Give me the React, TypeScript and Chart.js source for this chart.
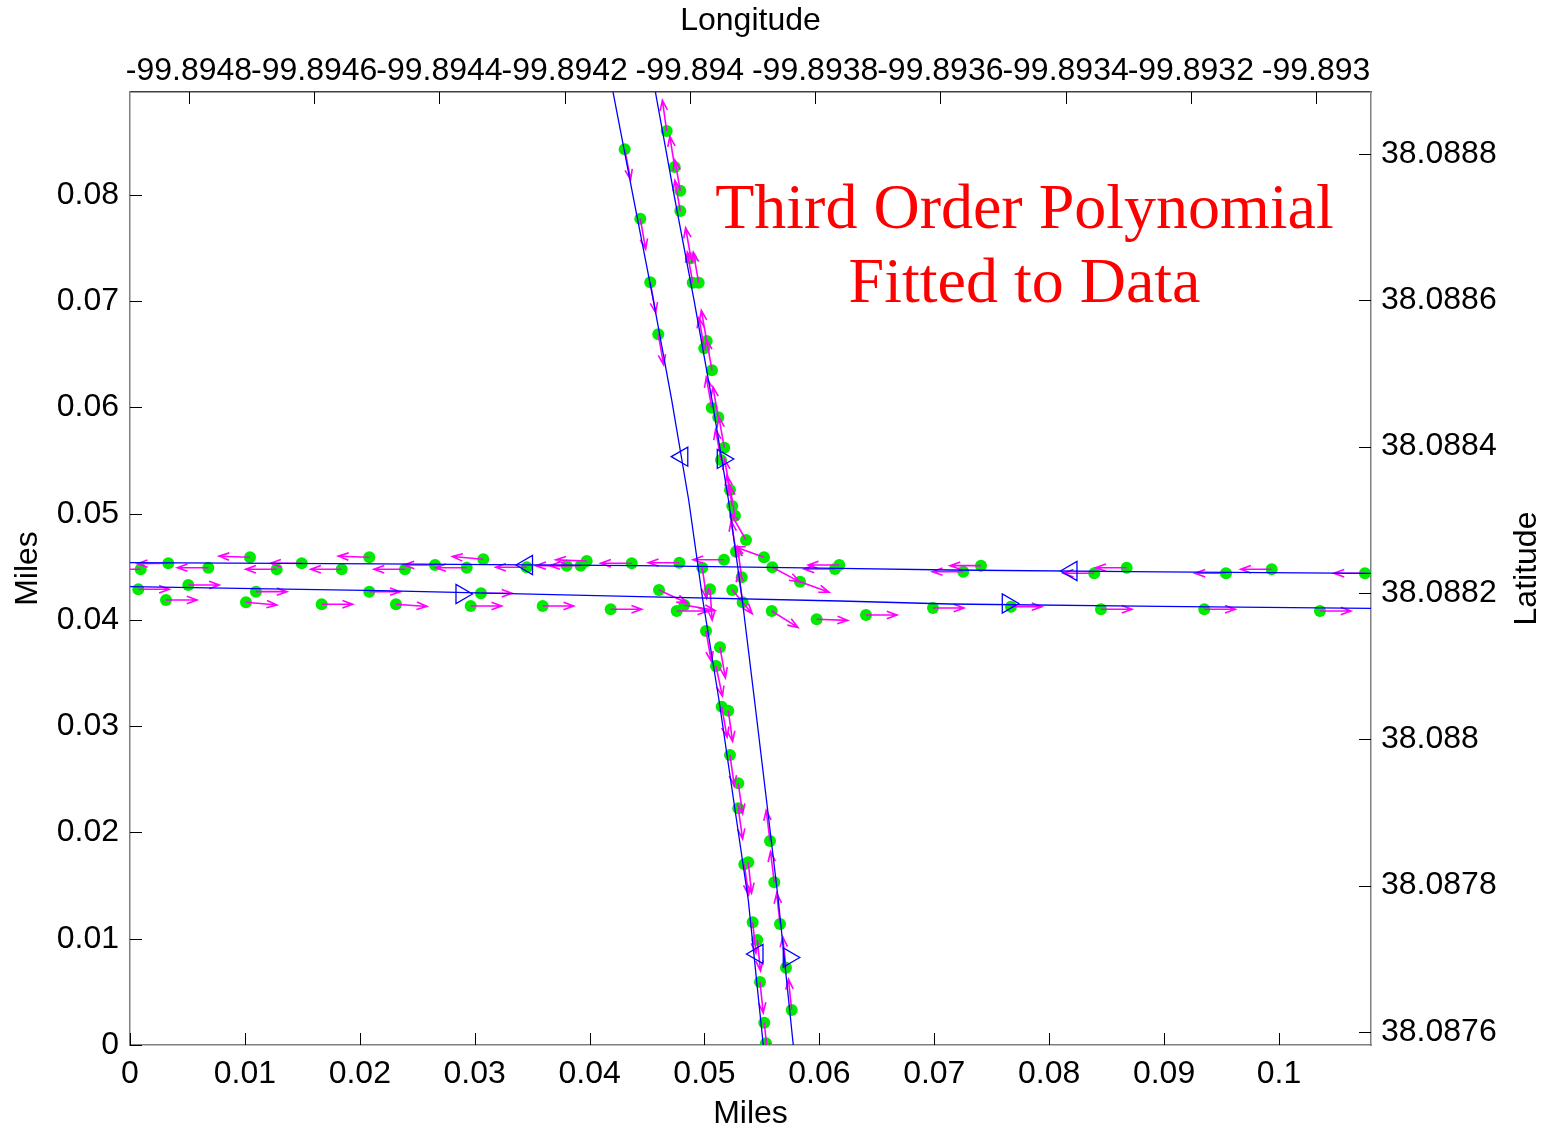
import React, { useEffect, useRef } from 'react';
import { Chart, registerables } from 'chart.js';

Chart.register(...registerables);

// ---- axis ranges and tick labels ----
const milesRangeX = [0, 0.10801];
const milesRangeY = [0, 0.08969];
const lonRange = [-99.8948942, -99.8929122];
const latRange = [38.0875822, 38.0888847];

const xTickValues = [0, 0.01, 0.02, 0.03, 0.04, 0.05, 0.06, 0.07, 0.08, 0.09, 0.1];
const xTickLabels = ['0', '0.01', '0.02', '0.03', '0.04', '0.05', '0.06', '0.07', '0.08', '0.09', '0.1'];
const yTickValues = [0, 0.01, 0.02, 0.03, 0.04, 0.05, 0.06, 0.07, 0.08];
const yTickLabels = ['0', '0.01', '0.02', '0.03', '0.04', '0.05', '0.06', '0.07', '0.08'];
const lonTickValues = [-99.8948, -99.8946, -99.8944, -99.8942, -99.894, -99.8938, -99.8936, -99.8934, -99.8932, -99.893];
const lonTickLabels = ['-99.8948', '-99.8946', '-99.8944', '-99.8942', '-99.894', '-99.8938', '-99.8936', '-99.8934', '-99.8932', '-99.893'];
const latTickValues = [38.0876, 38.0878, 38.088, 38.0882, 38.0884, 38.0886, 38.0888];
const latTickLabels = ['38.0876', '38.0878', '38.088', '38.0882', '38.0884', '38.0886', '38.0888'];

const captionLines = ['Third Order Polynomial', 'Fitted to Data'];

// ---- GPS fixes (miles) with heading in degrees (0 = east, 90 = north) ----
const westX = [0.000931, 0.003333, 0.006815, 0.010444, 0.012768, 0.014943, 0.018425, 0.020827, 0.023934, 0.026545,
  0.029304, 0.030749, 0.034526, 0.038007, 0.039225, 0.039748, 0.043664, 0.047807, 0.051697, 0.061358,
  0.061732, 0.072524, 0.074064, 0.083925, 0.086745, 0.095387, 0.099365, 0.107485];
const westY = [0.044772, 0.045336, 0.044922, 0.045901, 0.044772, 0.045336, 0.044772, 0.045901, 0.044772, 0.045176,
  0.044922, 0.045713, 0.044960, 0.045111, 0.045111, 0.045553, 0.045336, 0.045393, 0.045675, 0.044800,
  0.045176, 0.044546, 0.045111, 0.044395, 0.044922, 0.044395, 0.044772, 0.044395];
const westHeading = [180, 181, 180, 178, 180, 180, 180, 178, 180, 180,
  180, 175, 180, 180, 180, 178, 180, 180, 180, 180,
  180, 180, 180, 180, 180, 180, 180, 180];

const eastX = [0.000722, 0.003133, 0.005074, 0.010096, 0.010966, 0.016684, 0.020827, 0.023151, 0.029652, 0.030548,
  0.035918, 0.041836, 0.046040, 0.047581, 0.048242, 0.055848, 0.059765, 0.064056, 0.069887, 0.076675,
  0.084508, 0.093499, 0.103568];
const eastY = [0.042889, 0.041882, 0.043294, 0.041666, 0.042664, 0.041478, 0.042664, 0.041478, 0.041318, 0.042513,
  0.041318, 0.041007, 0.042824, 0.040847, 0.041412, 0.040847, 0.040066, 0.040471, 0.041129, 0.041252,
  0.041007, 0.041007, 0.040847];
const eastHeading = [0, 0, 0, -5, 0, 0, 0, -4, 0, 0,
  0, 0, -25, 0, -10, -32, -2, 0, 0, 0,
  0, 0, 0];

const southX = [0.043055, 0.044413, 0.045283, 0.045979, 0.049809, 0.050479, 0.050131, 0.051349, 0.051001, 0.051497,
  0.052071, 0.052219, 0.052942, 0.052942, 0.053464, 0.053812, 0.054195, 0.054595, 0.054830, 0.055204,
  0.055352];
const southY = [0.084301, 0.077769, 0.071784, 0.066889, 0.044922, 0.042889, 0.038965, 0.037431, 0.035671, 0.031840,
  0.031464, 0.027294, 0.024631, 0.022278, 0.017007, 0.017195, 0.011548, 0.009882, 0.005929, 0.002099,
  0.000160];
const southHeading = [-79, -80, -80, -80, -82, -86, -80, -80, -78, -80,
  -82, -82, -82, -82, -82, -84, -84, -84, -84, -84,
  -84];

const northX = [0.057589, 0.057093, 0.056571, 0.056075, 0.055701, 0.053325, 0.053238, 0.052742, 0.052654, 0.052419,
  0.052219, 0.051436, 0.051723, 0.051201, 0.050627, 0.050653, 0.049983, 0.050191, 0.049495, 0.048973,
  0.048825, 0.047894, 0.047894, 0.047406, 0.046710];
const northY = [0.003294, 0.007275, 0.011388, 0.015313, 0.019200, 0.041666, 0.044019, 0.046428, 0.049816, 0.050729,
  0.052235, 0.055059, 0.056216, 0.059078, 0.059981, 0.063501, 0.065572, 0.066259, 0.071746, 0.071746,
  0.074042, 0.078494, 0.080405, 0.082635, 0.086024];
const northHeading = [96, 96, 96, 97, 97, 98, 98, 99, 100, 100,
  100, 100, 100, 100, 100, 100, 100, 100, 100, 100,
  100, 100, 100, 99, 98];

const turnX = [0.053612, 0.055178, 0.055901, 0.058312, 0.052419];
const turnY = [0.047529, 0.045901, 0.044960, 0.043605, 0.042824];
const turnHeading = [120, 160, -28, -20, -50];

// ---- third order polynomial fits, sampled along each pass ----
const fitSouthX = [0.042037, 0.043847, 0.045544, 0.047145, 0.048625, 0.049852, 0.051262, 0.052533, 0.053812, 0.055117];
const fitSouthY = [0.089694, 0.079529, 0.070118, 0.060706, 0.051294, 0.041882, 0.032471, 0.023059, 0.013647, 0];
const fitNorthX = [0.045727, 0.047432, 0.049086, 0.050653, 0.052089, 0.053290, 0.054352, 0.055396, 0.056423, 0.057728];
const fitNorthY = [0.089694, 0.079529, 0.070118, 0.060706, 0.051294, 0.041882, 0.032471, 0.023059, 0.013647, 0];
const fitWestX = [0, 0.021758, 0.044386, 0.061793, 0.071366, 0.089643, 0.108007];
const fitWestY = [0.045393, 0.045271, 0.045111, 0.044866, 0.044706, 0.044536, 0.044395];
const fitEastX = [0, 0.021758, 0.044386, 0.061793, 0.071366, 0.089643, 0.108007];
const fitEastY = [0.043134, 0.042758, 0.042193, 0.041788, 0.041506, 0.041289, 0.041101];

// ---- direction-of-travel markers on the fitted curves ----
const markWestX = [0.034552, 0.081941];
const markWestY = [0.045176, 0.044612];
const markEastX = [0.028851, 0.076397];
const markEastY = [0.042447, 0.041553];
const markSouthX = [0.048068, 0.054613];
const markSouthY = [0.055369, 0.008565];
const markNorthX = [0.051593, 0.057337];
const markNorthY = [0.055153, 0.008235];

const SANS = '"Liberation Sans", Arial, Helvetica, sans-serif';
const SERIF = '"Liberation Serif", "Times New Roman", serif';
const BLUE = '#0000ff';
const GREEN = 'rgb(0, 235, 0)';
const MAGENTA = '#ff00ff';
const TICK_LEN = 12;
const ARROW_LEN = 31;

const pts = (xs: number[], ys: number[]) => xs.map((x, i) => ({ x, y: ys[i] }));

const dotGroups = [
  { x: westX, y: westY, h: westHeading },
  { x: eastX, y: eastY, h: eastHeading },
  { x: southX, y: southY, h: southHeading },
  { x: northX, y: northY, h: northHeading },
  { x: turnX, y: turnY, h: turnHeading },
];

// quiver arrows drawn right after the dots, before the fitted curves
const quiverPlugin = {
  id: 'quiver',
  afterDatasetDraw(chart: any, args: any) {
    const ds = chart.data.datasets[args.index];
    if (!ds.headings) return;
    const { ctx, chartArea: a } = chart;
    const sx = chart.scales.x;
    const sy = chart.scales.y;
    const alpha = 0.33;
    const beta = 0.36;
    ctx.save();
    ctx.beginPath();
    ctx.rect(a.left, a.top, a.right - a.left, a.bottom - a.top);
    ctx.clip();
    ctx.strokeStyle = MAGENTA;
    ctx.lineWidth = 1.6;
    ds.data.forEach((p: any, i: number) => {
      const px = sx.getPixelForValue(p.x);
      const py = sy.getPixelForValue(p.y);
      const t = (ds.headings[i] * Math.PI) / 180;
      const u = Math.cos(t) * ARROW_LEN;
      const v = -Math.sin(t) * ARROW_LEN;
      const hx = px + u;
      const hy = py + v;
      ctx.beginPath();
      ctx.moveTo(px, py);
      ctx.lineTo(hx, hy);
      ctx.moveTo(hx - alpha * (u + beta * v), hy - alpha * (v - beta * u));
      ctx.lineTo(hx, hy);
      ctx.lineTo(hx - alpha * (u - beta * v), hy - alpha * (v + beta * u));
      ctx.stroke();
    });
    ctx.restore();
  },
};

// tick marks pointing into the plot box, on all four sides
const inwardTicksPlugin = {
  id: 'inwardTicks',
  afterDraw(chart: any) {
    const { ctx, chartArea: a, scales } = chart;
    ctx.save();
    ctx.strokeStyle = '#000';
    ctx.lineWidth = 1;
    ctx.beginPath();
    scales.x.ticks.forEach((t: any) => {
      const p = Math.round(scales.x.getPixelForValue(t.value)) + 0.5;
      ctx.moveTo(p, a.bottom);
      ctx.lineTo(p, a.bottom - TICK_LEN);
    });
    scales.x2.ticks.forEach((t: any) => {
      const p = Math.round(scales.x2.getPixelForValue(t.value)) + 0.5;
      ctx.moveTo(p, a.top);
      ctx.lineTo(p, a.top + TICK_LEN);
    });
    scales.y.ticks.forEach((t: any) => {
      const p = Math.round(scales.y.getPixelForValue(t.value)) + 0.5;
      ctx.moveTo(a.left, p);
      ctx.lineTo(a.left + TICK_LEN, p);
    });
    scales.y2.ticks.forEach((t: any) => {
      const p = Math.round(scales.y2.getPixelForValue(t.value)) + 0.5;
      ctx.moveTo(a.right, p);
      ctx.lineTo(a.right - TICK_LEN, p);
    });
    ctx.stroke();
    ctx.restore();
  },
};

// caption inside the plot and the right-hand axis title (reads bottom to top)
const textPlugin = {
  id: 'captionText',
  afterDatasetsDraw(chart: any) {
    const { ctx, chartArea: a } = chart;
    ctx.save();
    ctx.fillStyle = '#ff0000';
    ctx.font = `64px ${SERIF}`;
    ctx.textAlign = 'center';
    ctx.textBaseline = 'alphabetic';
    const cx = a.left + 894.5;
    ctx.fillText(captionLines[0], cx, a.top + 136);
    ctx.fillText(captionLines[1], cx, a.top + 210);
    ctx.restore();
  },
  afterDraw(chart: any) {
    const { ctx, chartArea: a } = chart;
    ctx.save();
    ctx.fillStyle = '#000';
    ctx.font = `32px ${SANS}`;
    ctx.textAlign = 'center';
    ctx.textBaseline = 'middle';
    ctx.translate(a.right + 156, (a.top + a.bottom) / 2);
    ctx.rotate(-Math.PI / 2);
    ctx.fillText('Latitude', 0, 0);
    ctx.restore();
  },
};

const fixedTicks = (values: number[]) => (scale: any) => {
  scale.ticks = values.map((value) => ({ value }));
};

export default function App() {
  const canvasRef = useRef<HTMLCanvasElement | null>(null);

  useEffect(() => {
    if (!canvasRef.current) return;

    const dotData = dotGroups.flatMap((g) => pts(g.x, g.y));
    const dotHeadings = dotGroups.flatMap((g) => g.h);

    const fitLine = (xs: number[], ys: number[]) => ({
      data: pts(xs, ys),
      showLine: true,
      borderColor: BLUE,
      borderWidth: 1.3,
      pointRadius: 0,
      tension: 0,
      clip: 0,
      order: 2,
    });
    const markers = (xs: number[], ys: number[], rotation: number) => ({
      data: pts(xs, ys),
      showLine: false,
      pointStyle: 'triangle',
      pointRotation: rotation,
      pointRadius: 11,
      pointBorderColor: BLUE,
      pointBackgroundColor: 'rgba(0,0,0,0)',
      pointBorderWidth: 1.3,
      clip: 0,
      order: 1,
    });

    const tickFont = { family: SANS, size: 32 };
    const titleFont = { family: SANS, size: 32 };

    const chart = new Chart(canvasRef.current, {
      type: 'scatter',
      data: {
        datasets: [
          {
            data: dotData,
            headings: dotHeadings,
            showLine: false,
            pointRadius: 6,
            pointBackgroundColor: GREEN,
            pointBorderWidth: 0,
            clip: 0,
            order: 3,
          } as any,
          fitLine(fitSouthX, fitSouthY),
          fitLine(fitNorthX, fitNorthY),
          fitLine(fitWestX, fitWestY),
          fitLine(fitEastX, fitEastY),
          markers(markWestX, markWestY, -90),
          markers(markEastX, markEastY, 90),
          markers(markSouthX, markSouthY, -90),
          markers(markNorthX, markNorthY, 90),
        ],
      },
      options: {
        animation: false,
        responsive: false,
        devicePixelRatio: 1,
        events: [],
        layout: { padding: 0 },
        plugins: { legend: { display: false }, tooltip: { enabled: false } },
        scales: {
          x: {
            type: 'linear',
            position: 'bottom',
            min: milesRangeX[0],
            max: milesRangeX[1],
            afterFit: (s: any) => { s.height = 86; },
            afterBuildTicks: fixedTicks(xTickValues),
            grid: { display: false },
            border: { display: true, color: '#808080', width: 1.5 },
            ticks: {
              autoSkip: false, maxRotation: 0, minRotation: 0, padding: 2,
              color: '#000', font: tickFont,
              callback: (_v: any, i: number) => xTickLabels[i],
            },
            title: { display: true, text: 'Miles', color: '#000', font: titleFont, padding: { top: 0, bottom: -2 } },
          },
          x2: {
            type: 'linear',
            position: 'top',
            min: lonRange[0],
            max: lonRange[1],
            afterFit: (s: any) => { s.height = 92; },
            afterBuildTicks: fixedTicks(lonTickValues),
            grid: { display: false },
            border: { display: true, color: '#404040', width: 1.5 },
            ticks: {
              autoSkip: false, maxRotation: 0, minRotation: 0, padding: -6,
              color: '#000', font: tickFont,
              callback: (_v: any, i: number) => lonTickLabels[i],
            },
            title: { display: true, text: 'Longitude', color: '#000', font: titleFont, padding: { top: 2, bottom: 0 } },
          },
          y: {
            type: 'linear',
            position: 'left',
            min: milesRangeY[0],
            max: milesRangeY[1],
            afterFit: (s: any) => { s.width = 130; },
            afterBuildTicks: fixedTicks(yTickValues),
            grid: { display: false },
            border: { display: true, color: '#808080', width: 1.5 },
            ticks: {
              autoSkip: false, padding: 3,
              color: '#000', font: tickFont,
              callback: (_v: any, i: number) => yTickLabels[i],
            },
            title: { display: true, text: 'Miles', color: '#000', font: titleFont, padding: { top: 9, bottom: 0 } },
          },
          y2: {
            type: 'linear',
            position: 'right',
            min: latRange[0],
            max: latRange[1],
            afterFit: (s: any) => { s.width = 181; },
            afterBuildTicks: fixedTicks(latTickValues),
            grid: { display: false },
            border: { display: true, color: '#808080', width: 1.5 },
            ticks: {
              autoSkip: false, padding: 2,
              color: '#000', font: tickFont,
              callback: (_v: any, i: number) => latTickLabels[i],
            },
          },
        },
      } as any,
      plugins: [quiverPlugin, inwardTicksPlugin, textPlugin],
    });

    return () => chart.destroy();
  }, []);

  return (
    <div style={{ position: 'fixed', left: 0, top: 0, width: 1552, height: 1131, background: '#fff' }}>
      <canvas ref={canvasRef} width={1552} height={1131} style={{ display: 'block', width: 1552, height: 1131 }} />
    </div>
  );
}
